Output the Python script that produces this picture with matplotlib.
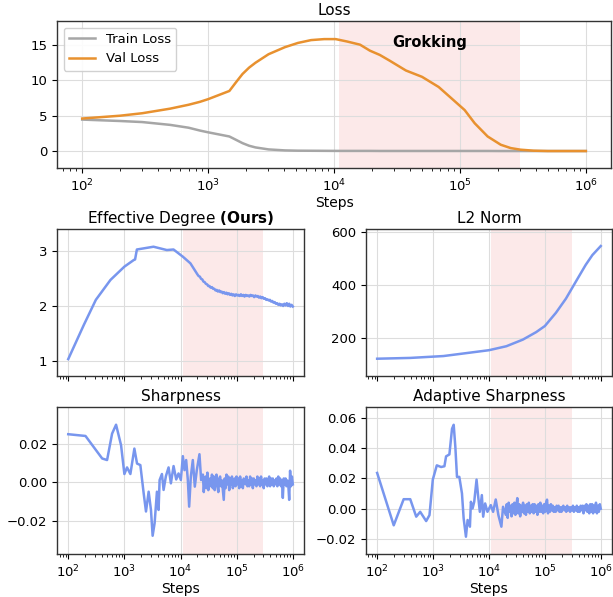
import numpy as np
import matplotlib.pyplot as plt

# ---- data ----
loss_steps = [100, 200, 300, 500, 700, 860, 1000, 1475, 1660, 1875, 2115, 2380, 3020, 4075,
              5175, 6575, 8360, 10300, 12700, 16100, 19300, 23100, 27600, 37200, 50000,
              67700, 86000, 109000, 131000, 166000, 211000, 253000, 303000, 385000, 500000,
              1000000]
train_loss = [4.45, 4.25, 4.1, 3.7, 3.3, 2.9, 2.65, 2.06, 1.6, 1.12, 0.75, 0.51, 0.23, 0.09,
              0.05, 0.04, 0.03, 0.02, 0.02, 0.02, 0.02, 0.01, 0.01, 0.01, 0.01,
              0.01, 0.01, 0.01, 0.01, 0.01, 0.0, 0.0, 0.0, 0.0, 0.0, 0.0]
val_loss = [4.6, 5.0, 5.35, 6.0, 6.55, 6.96, 7.34, 8.5, 9.7, 10.9, 11.8, 12.5, 13.7, 14.7,
            15.3, 15.7, 15.84, 15.84, 15.5, 15.05, 14.2, 13.6, 12.8, 11.4, 10.5,
            9.07, 7.43, 5.8, 3.93, 2.06, 0.89, 0.42, 0.19, 0.05, 0.0, 0.0]

ed_steps = [100, 190, 310, 565, 1000, 1470, 1550, 1670, 2200, 3300, 5700, 7500, 11000, 15000]
ed_vals = [1.04, 1.66, 2.11, 2.47, 2.71, 2.83, 2.84, 3.02, 3.04, 3.07, 3.01, 3.02, 2.89, 2.77]
ed_tail = [2.57, 2.54, 2.53, 2.49, 2.48, 2.44, 2.43, 2.40, 2.39, 2.36,
           2.36, 2.33, 2.34, 2.31, 2.31, 2.28, 2.29, 2.26, 2.28, 2.25,
           2.26, 2.23, 2.25, 2.22, 2.24, 2.21, 2.23, 2.20, 2.22, 2.19,
           2.21, 2.18, 2.21, 2.19, 2.20, 2.18, 2.21, 2.18, 2.20, 2.17,
           2.20, 2.18, 2.19, 2.17, 2.20, 2.18, 2.19, 2.16, 2.19, 2.17,
           2.18, 2.15, 2.17, 2.14, 2.16, 2.13, 2.14, 2.11, 2.12, 2.10,
           2.11, 2.08, 2.09, 2.06, 2.07, 2.04, 2.05, 2.02, 2.04, 2.01,
           2.03, 2.00, 2.04, 2.01, 2.05, 2.00, 2.04, 1.99, 2.02, 1.99]

l2_steps = [100, 392, 1530, 3030, 10000, 20500, 40500, 69800, 100000, 158000, 238000,
            358000, 537000, 708000, 1000000]
l2_vals = [122, 125, 132, 140, 154, 169, 194, 222, 245, 295, 348, 412, 475, 512, 546]

sh_steps = [100, 203, 402, 492, 604, 711, 873, 1000, 1115, 1279, 1506, 1680, 1925, 2205,
            2425, 2705, 2975, 3185, 3455, 3800, 4065, 4240, 4665, 4990, 5490, 6125, 6735,
            7515, 8380, 9210, 10140, 11000, 11770, 12600, 13500, 14250, 15250, 16550,
            17960, 19490, 21740, 23270]
sh_vals = [0.0248, 0.0239, 0.0123, 0.0115, 0.0251, 0.0297, 0.0191, 0.0043, 0.0077, 0.0043,
           0.0174, 0.0097, 0.0089, -0.0056, -0.0150, -0.0048, -0.0142, -0.0275, -0.0210,
           -0.0048, -0.0142, 0.0012, 0.0043, -0.0039, 0.0032, 0.0077, -0.0005, 0.0084,
           0.0015, 0.0046, 0.0012, 0.0135, 0.0063, 0.0115, 0.0012, -0.0125, 0.0029, 0.0115,
           -0.0022, 0.0063, 0.0145, 0.0012]
sh_tail = [0.004, -0.005, 0.001, 0.003, -0.003, 0.005, -0.004, 0.000, 0.002, -0.002,
           0.004, -0.003, 0.003, -0.004, 0.002, 0.004, -0.002, -0.005, 0.002, 0.003,
           -0.002, 0.001, -0.004, -0.009, 0.002, -0.003, 0.004, -0.001, 0.003, -0.004,
           0.002, -0.001, 0.003, -0.003, 0.001, 0.002, -0.002, 0.003, -0.001, 0.002,
           -0.003, 0.003, -0.002, 0.001, -0.003, 0.002, 0.000, -0.001, 0.003, -0.002,
           0.001, -0.002, 0.003, -0.001, 0.002, -0.003, 0.002, -0.001, 0.001, -0.002,
           0.003, -0.001, 0.002, -0.002, 0.003, -0.001, 0.001, -0.003, 0.002, -0.001,
           0.002, -0.002, 0.001, 0.003, -0.002, 0.002, -0.001, 0.002, -0.002, 0.001,
           -0.001, 0.002, -0.002, 0.003, -0.001, 0.002, -0.002, 0.001, -0.008, 0.002,
           -0.001, 0.002, -0.002, 0.001, -0.001, -0.009, 0.006, -0.002, 0.003, -0.001]

ash_steps = [100, 198, 298, 391, 500, 589, 753, 863, 990, 1167, 1393, 1597, 1710, 1960,
             2185, 2340, 2505, 2680, 2950, 3290, 3525, 3875, 4150, 4565, 4755, 5090, 5450,
             6000, 6420, 6870, 7460, 7880, 8550, 9400, 10780, 11860, 13220, 14750, 16680,
             17860]
ash_vals = [0.0236, -0.0109, 0.0063, 0.0063, -0.0052, -0.0020, -0.0081, -0.0042, 0.0192,
            0.0286, 0.0275, 0.0280, 0.0345, 0.0358, 0.0527, 0.0553, 0.0407, 0.0210, 0.0210,
            0.0101, -0.0063, -0.0184, -0.0074, -0.0118, 0.0046, 0.0002, 0.0046, 0.0192,
            0.0079, -0.0020, 0.0090, -0.0052, 0.0035, -0.0020, 0.0024, -0.0020, 0.0061,
            -0.0042, -0.0118, 0.0013]
ash_tail = [-0.004, 0.003, -0.006, 0.004, -0.002, 0.002, -0.005, 0.003, -0.003, 0.004,
            -0.004, 0.002, 0.007, -0.003, 0.003, -0.005, 0.002, -0.002, 0.004, -0.003,
            0.002, -0.004, 0.003, -0.002, 0.004, -0.003, 0.002, -0.002, 0.003, -0.003,
            0.003, -0.002, 0.002, -0.004, 0.003, -0.002, 0.004, -0.002, 0.002, -0.003,
            0.003, -0.002, 0.004, 0.006, -0.003, 0.002, -0.002, 0.003, -0.001, 0.002,
            -0.002, 0.001, -0.002, 0.002, -0.001, 0.002, -0.002, 0.001, -0.002, 0.001,
            0.002, -0.001, 0.001, -0.002, 0.002, -0.001, 0.001, -0.002, 0.001, -0.001,
            0.002, -0.002, 0.001, -0.001, 0.002, -0.002, 0.001, -0.002, 0.002, -0.001,
            0.002, -0.003, 0.002, -0.001, 0.003, -0.002, 0.002, -0.003, 0.003, -0.002,
            0.003, -0.003, 0.002, -0.002, 0.004, -0.003, 0.002, -0.002, 0.003, 0.000]

grok_start, grok_end = 1.1e4, 3.0e5

# tails are logged on an even log grid
ed_x = ed_steps + list(np.geomspace(2e4, 1e6, len(ed_tail)))
ed_y = ed_vals + ed_tail
sh_x = sh_steps + list(np.geomspace(2.5e4, 1e6, len(sh_tail)))
sh_y = sh_vals + sh_tail
ash_x = ash_steps + list(np.geomspace(2e4, 1e6, len(ash_tail)))
ash_y = ash_vals + ash_tail

blue = '#7896ee'

fig = plt.figure(figsize=(6.13, 5.97), dpi=100)
ax_loss = fig.add_axes([0.093, 0.7186, 0.9038, 0.2462])
ax_ed = fig.add_axes([0.093, 0.3702, 0.403, 0.2462])
ax_l2 = fig.add_axes([0.597, 0.3702, 0.4013, 0.2462])
ax_sh = fig.add_axes([0.093, 0.072, 0.403, 0.2462])
ax_ash = fig.add_axes([0.597, 0.072, 0.4013, 0.2462])


def style(ax):
    ax.set_xscale('log')
    ax.set_xlim(10 ** 1.8, 10 ** 6.2)
    ax.axvspan(grok_start, grok_end, color='lightcoral', alpha=0.17, lw=0, zorder=0)
    ax.grid(True, color='#dddddd', lw=0.8, zorder=0)
    ax.set_axisbelow(True)
    ax.tick_params(labelsize=9.5)
    for s in ax.spines.values():
        s.set_color('#333333')
        s.set_linewidth(1.0)


# Loss
style(ax_loss)
ax_loss.plot(loss_steps, train_loss, color='#a6a6a6', lw=1.8, label='Train Loss')
ax_loss.plot(loss_steps, val_loss, color='#e8912f', lw=1.8, label='Val Loss')
ax_loss.set_ylim(-2.4, 18.4)
ax_loss.set_yticks([0, 5, 10, 15])
ax_loss.set_title('Loss', fontsize=11, pad=4)
ax_loss.set_xlabel('Steps', fontsize=10, labelpad=1)
ax_loss.text(np.sqrt(grok_start * grok_end), 15.3, 'Grokking', fontsize=10.5,
             fontweight='bold', ha='center', va='center')
ax_loss.legend(loc='upper left', fontsize=9.5, framealpha=0.9)

# Effective degree
style(ax_ed)
ax_ed.plot(ed_x, ed_y, color=blue, lw=1.8)
ax_ed.set_ylim(0.735, 3.39)
ax_ed.set_yticks([1, 2, 3])
ax_ed.set_title('Effective Degree $\\bf{(Ours)}$', fontsize=11, pad=4)
ax_ed.tick_params(labelbottom=False)

# L2 norm
style(ax_l2)
ax_l2.plot(l2_steps, l2_vals, color=blue, lw=1.8)
ax_l2.set_ylim(57, 610)
ax_l2.set_yticks([200, 400, 600])
ax_l2.set_title('L2 Norm', fontsize=11, pad=4)
ax_l2.tick_params(labelbottom=False)

# Sharpness
style(ax_sh)
ax_sh.plot(sh_x, sh_y, color=blue, lw=1.8)
ax_sh.set_ylim(-0.0369, 0.0388)
ax_sh.set_yticks([-0.02, 0.0, 0.02])
ax_sh.set_title('Sharpness', fontsize=11, pad=4)
ax_sh.set_xlabel('Steps', fontsize=10, labelpad=1)

# Adaptive sharpness
style(ax_ash)
ax_ash.plot(ash_x, ash_y, color=blue, lw=1.8)
ax_ash.set_ylim(-0.0298, 0.067)
ax_ash.set_yticks([-0.02, 0.0, 0.02, 0.04, 0.06])
ax_ash.set_title('Adaptive Sharpness', fontsize=11, pad=4)
ax_ash.set_xlabel('Steps', fontsize=10, labelpad=1)

fig.savefig('out.png', dpi=100)
